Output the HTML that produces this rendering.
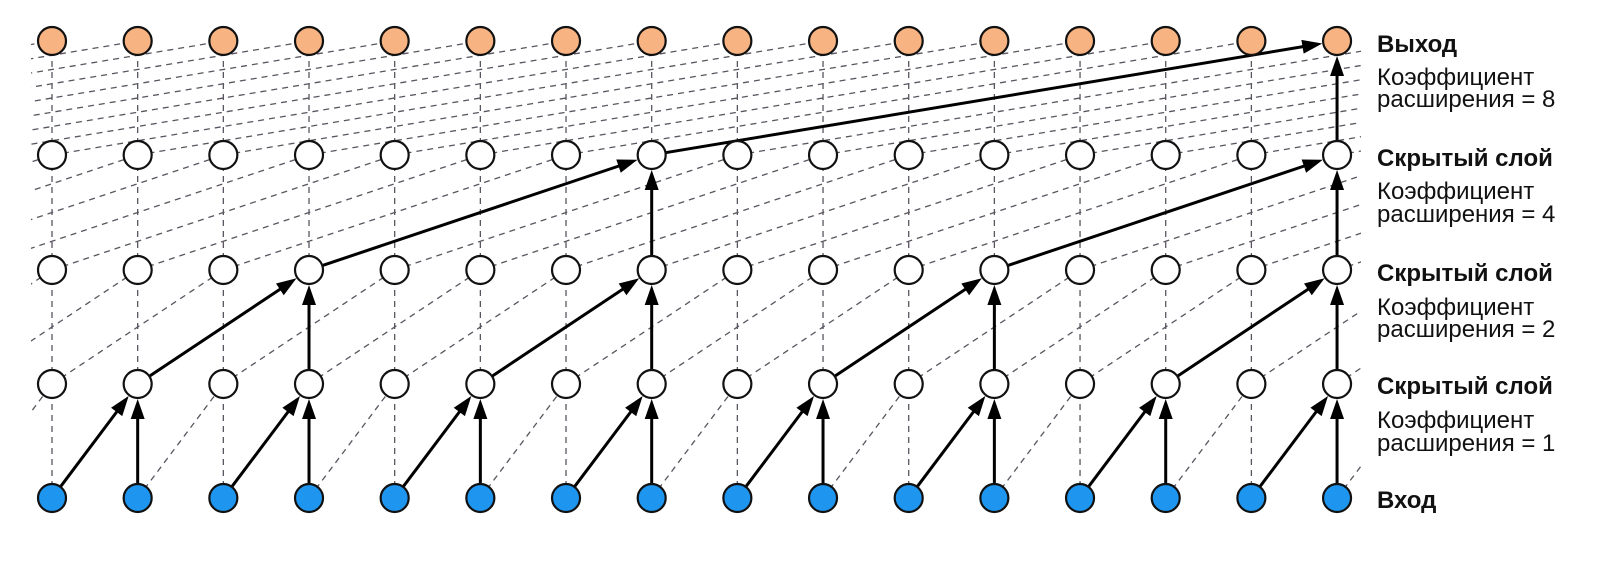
<!DOCTYPE html>
<html><head><meta charset="utf-8"><style>
html,body{margin:0;padding:0;background:#fff;width:1599px;height:571px;overflow:hidden}
svg text{font-family:"Liberation Sans","DejaVu Sans",sans-serif;font-size:24px;fill:#111}
.b{font-weight:bold}
</style></head><body>
<svg id="s" width="1599" height="571" xmlns="http://www.w3.org/2000/svg">
<defs>
<clipPath id="c"><rect x="31" y="0" width="1330" height="571"/></clipPath>
</defs>
<g id="dash" clip-path="url(#c)" stroke="#5a5560" stroke-width="1.3" stroke-dasharray="6,5" fill="none"></g>
<g id="solid" stroke="#000" stroke-width="3" fill="none"></g>
<g id="heads" fill="#000"></g>
<g id="nodes"></g>
<text class="b" x="1377" y="52">Выход</text>
<text x="1377" y="85">Коэффициент</text>
<text x="1377" y="107">расширения = 8</text>
<text class="b" x="1377" y="166">Скрытый слой</text>
<text x="1377" y="199">Коэффициент</text>
<text x="1377" y="222">расширения = 4</text>
<text class="b" x="1377" y="281">Скрытый слой</text>
<text x="1377" y="315">Коэффициент</text>
<text x="1377" y="337">расширения = 2</text>
<text class="b" x="1377" y="394">Скрытый слой</text>
<text x="1377" y="428">Коэффициент</text>
<text x="1377" y="451">расширения = 1</text>
<text class="b" x="1377" y="508">Вход</text>
</svg>
<script>
(function(){
var NS="http://www.w3.org/2000/svg";
var X=function(i){return 52+i*85.67;};
var Y=[498,384,270,155,41];
var D=[1,2,4,8];
var R=14, HL=20, HW=7;
function el(p,t,a){var e=document.createElementNS(NS,t);for(var k in a)e.setAttribute(k,a[k]);p.appendChild(e);return e;}
var dash=document.getElementById('dash'),solid=document.getElementById('solid'),heads=document.getElementById('heads'),nodes=document.getElementById('nodes');
var solidSet={};
var active=[[],[],[],[],[15]];
for(var L=4;L>0;L--){var d=D[L-1];active[L].forEach(function(t){var a=[t,t-d];a.forEach(function(s){solidSet[(L-1)+'_'+s+'_'+t]=1;if(active[L-1].indexOf(s)<0)active[L-1].push(s);});});}
for(var t=1;t<16;t+=2){solidSet['0_'+t+'_'+t]=1;solidSet['0_'+(t-1)+'_'+t]=1;}
[3,7,11,15].forEach(function(t){solidSet['1_'+t+'_'+t]=1;solidSet['1_'+(t-2)+'_'+t]=1;});
[7,15].forEach(function(t){solidSet['2_'+t+'_'+t]=1;solidSet['2_'+(t-4)+'_'+t]=1;});
for(var L=0;L<4;L++){var d=D[L];
  for(var t=-d;t<16+d;t++){
    [t,t-d].forEach(function(s){
      if(s<-d-1||s>15+d)return;
      var key=L+'_'+s+'_'+t;
      var x1=X(s),y1=Y[L],x2=X(t),y2=Y[L+1];
      if(solidSet[key]&&s>=0&&t<=15){
        var dx=x2-x1,dy=y2-y1,len=Math.sqrt(dx*dx+dy*dy),ux=dx/len,uy=dy/len;
        var tx=x2-ux*(R+1),ty=y2-uy*(R+1);
        var bx=tx-ux*HL,by=ty-uy*HL;
        el(solid,'line',{x1:x1+ux*R,y1:y1+uy*R,x2:bx+ux*2,y2:by+uy*2});
        el(heads,'polygon',{points:tx+','+ty+' '+(bx-uy*HW)+','+(by+ux*HW)+' '+(bx+uy*HW)+','+(by-ux*HW)});
      } else if(!(s===t&&(s<0||s>15))){
        el(dash,'line',{x1:x1,y1:y1,x2:x2,y2:y2});
      }
    });
  }
}
var fills=['#1e96ef','#fff','#fff','#fff','#f8b382'];
for(var L=0;L<5;L++)for(var i=0;i<16;i++)el(nodes,'circle',{cx:X(i),cy:Y[L],r:R,fill:fills[L],stroke:'#111','stroke-width':2.2});
})();
</script>
</body></html>
